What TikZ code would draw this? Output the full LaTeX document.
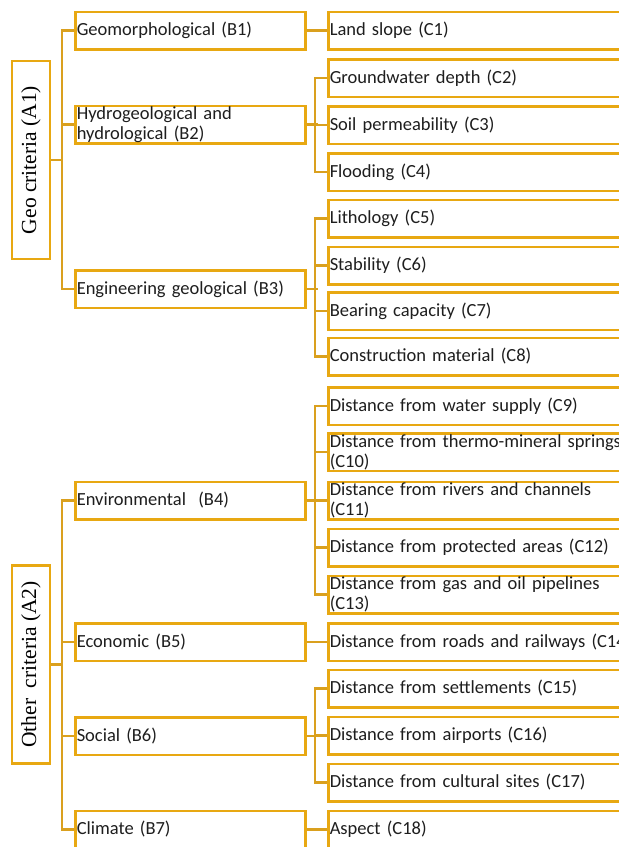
\documentclass[tikz,border=0pt]{standalone}
\usepackage{fontspec}
\setmainfont{Carlito}
\newfontfamily\serifA{Liberation Serif}
\definecolor{boxc}{RGB}{232,168,18}
\definecolor{linec}{RGB}{218,160,30}
\definecolor{txt}{RGB}{30,30,30}
\tikzset{
 bbox/.style={draw=boxc, line width=2.5pt, fill=white, text=txt, font=\fontsize{18.5}{20}\selectfont, anchor=west, minimum height=37.5pt, inner xsep=1.5pt, inner ysep=0pt, align=left},
 bnode/.style={bbox, text width=227pt},
 cnode/.style={bbox, text width=310pt},
 anode/.style={draw=boxc, line width=2.5pt, rotate=90, minimum width=198pt, minimum height=38pt, font=\serifA\fontsize{21.5}{24}\selectfont, text=black, inner sep=0pt},
 conn/.style={draw=linec, line width=2.2pt},
}
\begin{document}
\begin{tikzpicture}[x=1pt,y=-1pt]
\useasboundingbox (0,0) rectangle (619,847);
\clip (0,0) rectangle (619,847);
% A level
\node[anode] (A1) at (31,160) {Geo criteria (A1)};
\node[anode] (A2) at (31,664.5) {Other\ \ criteria (A2)};
% B level
\node[bnode] (B1) at (74,30.5) {Geomorphological (B1)};
\node[bnode] (B2) at (74,124.5) {Hydrogeological and\\hydrological (B2)};
\node[bnode] (B3) at (74,289) {Engineering geological (B3)};
\node[bnode] (B4) at (74,500.5) {Environmental\ \ (B4)};
\node[bnode] (B5) at (74,642) {Economic (B5)};
\node[bnode] (B6) at (74,736) {Social (B6)};
\node[bnode] (B7) at (74,829.5) {Climate (B7)};
% C level
\node[cnode] (C1) at (327,30.5) {Land slope (C1)};
\node[cnode] (C2) at (327,78) {Groundwater depth (C2)};
\node[cnode] (C3) at (327,125) {Soil permeability (C3)};
\node[cnode] (C4) at (327,172) {Flooding (C4)};
\node[cnode] (C5) at (327,218.5) {Lithology (C5)};
\node[cnode] (C6) at (327,265.5) {Stability (C6)};
\node[cnode] (C7) at (327,311) {Bearing capacity (C7)};
\node[cnode] (C8) at (327,356.5) {Construction material (C8)};
\node[cnode] (C9) at (327,406) {Distance from water supply (C9)};
\node[cnode] (C10) at (327,452) {Distance from thermo-mineral springs\\(C10)};
\node[cnode] (C11) at (327,500.5) {Distance from rivers and channels\\(C11)};
\node[cnode] (C12) at (327,547.5) {Distance from protected areas (C12)};
\node[cnode] (C13) at (327,594.5) {Distance from gas and oil pipelines\\(C13)};
\node[cnode] (C14) at (327,642) {Distance from roads and railways (C14)};
\node[cnode] (C15) at (327,688.5) {Distance from settlements (C15)};
\node[cnode] (C16) at (327,735.5) {Distance from airports (C16)};
\node[cnode] (C17) at (327,782.5) {Distance from cultural sites (C17)};
\node[cnode] (C18) at (327,829.5) {Aspect (C18)};
% A-B connectors
\draw[conn] (A1.south) -- ++(12,0);
\draw[conn] (B1.west) -- ++(-12,0) |- (B3.west);
\draw[conn] (B2.west) -- ++(-12,0);
\draw[conn] (A2.south) -- ++(12,0);
\draw[conn] (B4.west) -- ++(-12,0) |- (B7.west);
\draw[conn] (B5.west) -- ++(-12,0);
\draw[conn] (B6.west) -- ++(-12,0);
% B-C connectors
\draw[conn] (B1.east) -- (C1.west);
\draw[conn] (B2.east) -- ++(11,0);
\draw[conn] (C2.west) -- ++(-12,0) |- (C4.west);
\draw[conn] (C3.west) -- ++(-12,0);
\draw[conn] (B3.east) -- ++(11,0);
\draw[conn] (C5.west) -- ++(-12,0) |- (C8.west);
\draw[conn] (C6.west) -- ++(-12,0);
\draw[conn] (C7.west) -- ++(-12,0);
\draw[conn] (B4.east) -- ++(11,0);
\draw[conn] (C9.west) -- ++(-12,0) |- (C13.west);
\draw[conn] (C10.west) -- ++(-12,0);
\draw[conn] (C11.west) -- ++(-12,0);
\draw[conn] (C12.west) -- ++(-12,0);
\draw[conn] (B5.east) -- (C14.west);
\draw[conn] (B6.east) -- ++(11,0);
\draw[conn] (C15.west) -- ++(-12,0) |- (C17.west);
\draw[conn] (C16.west) -- ++(-12,0);
\draw[conn] (B7.east) -- (C18.west);
\end{tikzpicture}
\end{document}
